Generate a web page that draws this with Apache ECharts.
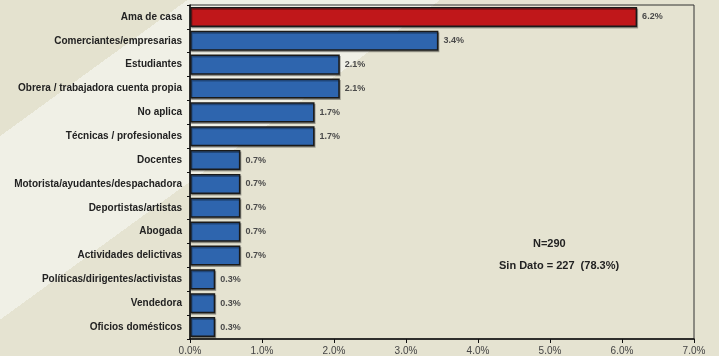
<!DOCTYPE html>
<html>
<head>
<meta charset="utf-8">
<script src="https://cdn.jsdelivr.net/npm/echarts@6/dist/echarts.min.js"></script>
<style>
    html, body { margin: 0; padding: 0; }
    #chart {
        width: 719px;
        height: 356px;
        background: linear-gradient(144deg, #e4e2cf 0%, #e4e2cf 15.5%, #f0f0e6 15.5%, #f0f0e6 36.4%, #e5e3d1 36.4%, #e5e3d1 100%);
    }
</style>
</head>
<body>
<div id="chart"></div>
<script>
    // ocupaciones y porcentajes (N=290)
    var categorias = [
        'Ama de casa',
        'Comerciantes/empresarias',
        'Estudiantes',
        'Obrera / trabajadora cuenta propia',
        'No aplica',
        'Técnicas / profesionales',
        'Docentes',
        'Motorista/ayudantes/despachadora',
        'Deportistas/artistas',
        'Abogada',
        'Actividades delictivas',
        'Políticas/dirigentes/activistas',
        'Vendedora',
        'Oficios domésticos'
    ];
    var porcentajes = [6.21, 3.45, 2.08, 2.08, 1.73, 1.73, 0.7, 0.7, 0.7, 0.7, 0.7, 0.35, 0.35, 0.35];
    var etiquetas = ['6.2%', '3.4%', '2.1%', '2.1%', '1.7%', '1.7%', '0.7%', '0.7%', '0.7%', '0.7%', '0.7%', '0.3%', '0.3%', '0.3%'];
    var ejeX = { min: 0, max: 7, interval: 1 };
    var destacada = 'Ama de casa';
    var notaN = 'N=290';
    var notaSinDato = 'Sin Dato = 227  (78.3%)';

    var chart = echarts.init(document.getElementById('chart'));

    var datos = porcentajes.map(function (v, i) {
        return {
            value: v,
            itemStyle: { color: categorias[i] === destacada ? '#c0171a' : '#2e65ae' }
        };
    });

    chart.setOption({
        backgroundColor: 'transparent',
        animation: false,
        textStyle: { fontFamily: 'Liberation Sans, Arial, sans-serif' },
        grid: {
            left: 190,
            right: 25,
            top: 5,
            bottom: 17,
            show: true,
            borderColor: '#333',
            borderWidth: 1,
            backgroundColor: 'transparent'
        },
        xAxis: {
            type: 'value',
            min: ejeX.min,
            max: ejeX.max,
            interval: ejeX.interval,
            splitLine: { show: false },
            axisLine: { show: true, lineStyle: { color: '#111', width: 1.5 } },
            axisTick: { show: true, length: 4, lineStyle: { color: '#111' } },
            axisLabel: {
                color: '#444',
                fontSize: 10,
                margin: 7,
                formatter: function (v) { return v.toFixed(1) + '%'; }
            }
        },
        yAxis: {
            type: 'category',
            inverse: true,
            data: categorias,
            axisLine: { show: true, lineStyle: { color: '#111', width: 1.5 } },
            axisTick: { show: true, length: 3, alignWithLabel: false, lineStyle: { color: '#111' } },
            axisLabel: {
                color: '#222',
                fontSize: 10,
                fontWeight: 'bold',
                margin: 8
            }
        },
        series: [{
            type: 'bar',
            data: datos,
            barCategoryGap: '16%',
            itemStyle: {
                borderColor: '#1a1a1a',
                borderWidth: 1.5,
                shadowColor: 'rgba(0,0,0,0.3)',
                shadowOffsetX: 1,
                shadowOffsetY: 1.5
            },
            label: {
                show: true,
                position: 'right',
                distance: 5,
                color: '#4a4a4a',
                fontSize: 9,
                fontWeight: 'bold',
                formatter: function (p) { return etiquetas[p.dataIndex]; }
            }
        }],
        graphic: [
            {
                type: 'text',
                left: 533,
                top: 238,
                style: { text: notaN, fill: '#222', font: 'bold 11px Liberation Sans, Arial, sans-serif' }
            },
            {
                type: 'text',
                left: 499,
                top: 260,
                style: { text: notaSinDato, fill: '#222', font: 'bold 11px Liberation Sans, Arial, sans-serif' }
            }
        ]
    });
</script>
</body>
</html>
